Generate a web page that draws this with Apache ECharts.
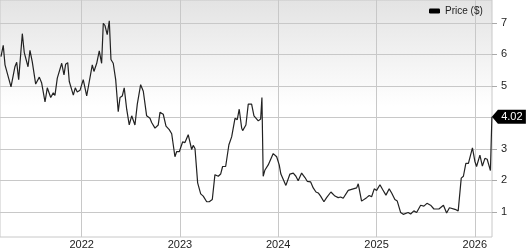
<!DOCTYPE html>
<html><head><meta charset="utf-8">
<script src="https://cdn.jsdelivr.net/npm/echarts@6.0.0/dist/echarts.min.js"></script>
<style>html,body{margin:0;padding:0;background:#fff}#c{width:527px;height:250px}</style>
</head><body><div id="c"></div>
<script>
const years = [
2021.179,2021.202,2021.220,2021.237,2021.281,2021.321,2021.339,2021.359,2021.396,2021.416,2021.433,2021.454,2021.474,2021.497,2021.532,2021.569,2021.593,2021.627,2021.650,2021.667,2021.685,2021.711,2021.728,2021.752,2021.797,2021.820,2021.837,2021.858,2021.874,2021.888,2021.915,2021.935,2021.955,2021.983,2021.996,2022.016,
2022.026,2022.051,2022.108,2022.125,2022.153,2022.179,2022.203,2022.220,2022.237,2022.260,2022.281,2022.298,2022.321,2022.346,2022.372,2022.390,2022.413,2022.433,2022.458,2022.484,2022.509,2022.542,2022.566,2022.600,2022.627,2022.661,2022.695,2022.712,2022.746,2022.779,2022.797,
2022.830,2022.858,2022.891,2022.916,2022.949,2022.966,2022.993,2023.027,2023.051,2023.084,2023.119,2023.135,2023.153,2023.180,2023.211,2023.237,2023.272,2023.298,2023.329,2023.356,2023.373,2023.390,2023.414,2023.434,2023.465,2023.498,2023.526,2023.560,2023.583,2023.603,2023.628,
2023.638,2023.671,2023.695,2023.729,2023.753,2023.773,2023.797,2023.821,2023.834,2023.847,2023.865,2023.898,2023.949,2023.984,2024.010,2024.027,2024.078,2024.119,2024.153,2024.180,2024.203,2024.238,2024.272,2024.295,2024.330,2024.356,2024.384,2024.407,2024.431,
2024.465,2024.492,2024.536,2024.577,2024.610,2024.635,2024.661,2024.712,2024.763,2024.798,2024.814,2024.824,2024.848,2024.899,2024.926,2024.950,2024.977,2025.001,2025.035,2025.062,2025.096,2025.129,2025.154,2025.187,2025.211,2025.245,
2025.272,2025.289,2025.322,2025.347,2025.380,2025.408,2025.449,2025.482,2025.513,2025.550,2025.584,2025.635,2025.681,2025.713,2025.742,2025.798,2025.831,2025.862,2025.884,2025.909,2025.935,2025.976,2026.001,2026.018,2026.052,2026.077,2026.103,2026.126,2026.159,2026.174
];
const prices = [
5.93,6.29,5.67,5.64,4.97,5.61,5.75,5.20,6.66,6.06,6.08,5.61,6.13,5.77,5.06,5.28,5.09,4.49,4.94,4.88,4.63,4.78,4.70,5.25,5.72,5.35,5.69,5.74,5.14,5.09,4.71,4.94,4.81,4.86,4.83,5.20,
5.14,4.68,5.67,5.46,5.72,6.11,5.72,6.99,6.92,6.63,7.07,5.84,5.72,5.20,4.18,4.63,4.68,4.94,4.26,3.76,4.05,3.76,4.42,5.04,4.83,4.05,3.97,3.84,3.66,3.76,4.16,
4.10,3.72,3.61,3.48,2.75,2.91,2.91,3.22,3.20,3.45,2.98,3.11,3.01,1.92,1.57,1.50,1.32,1.32,1.39,2.18,2.23,2.13,2.20,2.44,2.44,3.13,3.38,3.97,3.93,4.26,3.66,
3.58,3.76,4.42,4.42,4.05,4.10,3.89,3.95,4.63,2.13,2.33,2.49,2.85,2.75,2.49,2.20,1.84,2.20,2.23,2.13,1.99,2.23,2.09,1.97,1.95,1.76,1.63,1.60,1.50,
1.32,1.45,1.63,1.50,1.45,1.47,1.43,1.68,1.73,1.76,1.89,1.92,1.34,1.45,1.52,1.48,1.73,1.68,1.86,1.71,1.53,1.73,1.60,1.39,1.34,0.98,
0.92,0.87,0.98,0.93,1.03,0.98,1.21,1.18,1.27,1.21,1.09,1.09,1.21,0.96,1.13,1.08,1.03,2.07,2.13,2.54,2.54,3.03,2.60,2.44,2.80,2.45,2.70,2.67,2.31,4.02
];
const xTicks = [2022, 2023, 2024, 2025, 2026];
const yTicks = [1, 2, 3, 4, 5, 6, 7];
const seriesName = 'Price ($)';
const lastPrice = 4.02;

const data = years.map((y, i) => [y, prices[i]]);
const lastYear = years[years.length - 1];

const chart = echarts.init(document.getElementById('c'), null, {renderer: 'canvas'});
chart.setOption({
  animation: false,
  textStyle: {fontFamily: 'Liberation Sans, Arial, sans-serif'},
  grid: {
    left: 0, top: 0, right: 35, bottom: 10,
    show: true, borderColor: '#c8c8c8', borderWidth: 1,
    backgroundColor: {
      type: 'linear', x: 0, y: 0, x2: 0, y2: 1,
      colorStops: [{offset: 0, color: '#e3e3e3'}, {offset: 0.45, color: '#ffffff'}, {offset: 1, color: '#ffffff'}]
    }
  },
  legend: {
    show: true, left: 429, top: 6, padding: 0,
    itemWidth: 11, itemHeight: 5,
    data: [{name: seriesName, icon: 'roundRect'}],
    textStyle: {fontSize: 10, color: '#222', fontFamily: 'Liberation Sans, Arial, sans-serif'}
  },
  xAxis: {
    type: 'value', min: 2021.169, max: 2026.175,
    axisLine: {show: false},
    axisTick: {show: false, customValues: xTicks},
    axisLabel: {customValues: xTicks, formatter: v => String(v), fontSize: 11, color: '#222', margin: 2},
    splitLine: {show: true, lineStyle: {color: '#c8c8c8', width: 1}}
  },
  yAxis: {
    type: 'value', position: 'right', min: 0.2, max: 7.73,
    axisLine: {show: false},
    axisTick: {show: true, inside: false, length: 5, customValues: yTicks, lineStyle: {color: '#aaa'}},
    axisLabel: {customValues: yTicks, fontSize: 11, color: '#222', margin: 9},
    splitLine: {show: true, lineStyle: {color: '#c8c8c8', width: 1}}
  },
  series: [{
    name: seriesName, type: 'line', data: data,
    showSymbol: false, symbol: 'none',
    itemStyle: {color: '#000'},
    lineStyle: {color: '#222', width: 1.2},
    markPoint: {
      symbol: 'path://M0,7 L6,0 L34,0 L34,14 L6,14 Z',
      symbolSize: [34, 14], symbolOffset: [17, 0],
      itemStyle: {color: '#000'},
      label: {show: true, position: 'inside', offset: [3, 0], color: '#fff', fontSize: 11, formatter: () => lastPrice.toFixed(2)},
      data: [{coord: [lastYear, lastPrice]}]
    }
  }]
});
</script></body></html>
